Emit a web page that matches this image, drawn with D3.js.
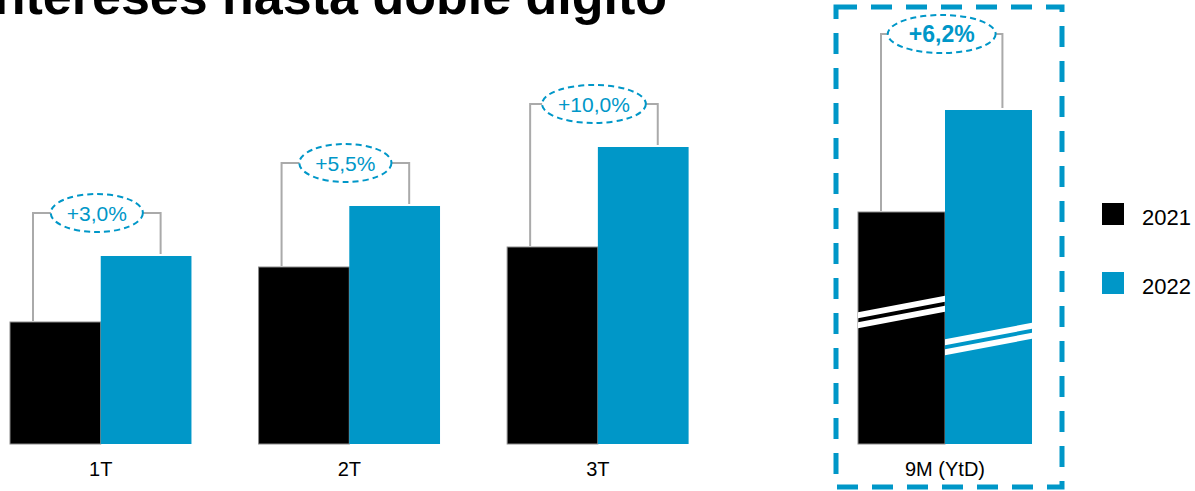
<!DOCTYPE html>
<html>
<head>
<meta charset="utf-8">
<script src="https://cdn.jsdelivr.net/npm/d3@7"></script>
<style>
  body { margin: 0; background: #fff; }
  svg { display: block; font-family: "Liberation Sans", Arial, sans-serif; }
</style>
</head>
<body>
<svg id="canvas"></svg>
<script>
// values (no axis in the original, so units are relative)
let quarters = ['1T', '2T', '3T'];
let years = ['2021', '2022'];
let values2021 = [122, 177, 197];
let values2022 = [188, 238, 297];
let growth = ['+3,0%', '+5,5%', '+10,0%'];

let ytdLabel = ['9M (YtD)'];
let ytd2021 = [232];
let ytd2022 = [334];
let ytdGrowth = ['+6,2%'];
// where the axis-break stripes sit on the 9M bars
let ytdBreak = [132, 105];

let title = 'Margen de intereses hasta doble dígito';

let width = 1195;
let height = 491;
let blue = '#0097c8';
let grey = '#aaaaaa';

let canvas = d3.select('#canvas')
    .attr('width', width)
    .attr('height', height);

// scales
let yScale = d3.scaleLinear().domain([0, 334]).range([444, 110]);

let xScale = d3.scaleBand()
    .domain(quarters)
    .range([10, 688.6])
    .paddingInner(0.27)
    .paddingOuter(0);

let xInner = d3.scaleBand().domain(years).range([0, xScale.bandwidth()]);

let xYtd = d3.scaleBand().domain(ytdLabel).range([858, 1032]);
let xYtdInner = d3.scaleBand().domain(years).range([0, xYtd.bandwidth()]);

let colour = d3.scaleOrdinal().domain(years).range(['#000000', blue]);

// title (cut at the top edge like the slide)
canvas.append('text')
    .attr('x', 667)
    .attr('y', 14)
    .attr('text-anchor', 'end')
    .attr('font-size', 52)
    .attr('font-weight', 'bold')
    .attr('fill', '#000')
    .text(title);

let drawGroups = (cats, v1, v2, labels, xs, xi, gap, bold) => {
    let rows = cats.map((c, i) => ({ cat: c, a: v1[i], b: v2[i], label: labels[i] }));

    let g = canvas.append('g');

    let grp = g.selectAll('g.grp')
        .data(rows)
        .enter()
        .append('g')
        .attr('class', 'grp')
        .attr('transform', d => 'translate(' + xs(d.cat) + ',0)');

    grp.selectAll('rect')
        .data(d => [{ year: '2021', v: d.a }, { year: '2022', v: d.b }])
        .enter()
        .append('rect')
        .attr('x', d => xi(d.year))
        .attr('y', d => yScale(d.v))
        .attr('width', xi.bandwidth())
        .attr('height', d => yScale(0) - yScale(d.v))
        .attr('fill', d => colour(d.year))
        .attr('stroke', d => d.year === '2021' ? '#8a8a8a' : 'none')
        .attr('stroke-width', 1);

    let armL = () => xi('2021') + 23;
    let armR = () => xi('2022') + xi.bandwidth() * 0.66;

    // bracket
    grp.append('path')
        .attr('fill', 'none')
        .attr('stroke', grey)
        .attr('stroke-width', 2)
        .attr('d', d => {
            let top = Math.min(yScale(d.a), yScale(d.b)) - gap;
            return 'M' + armL() + ',' + (yScale(d.a) - 1) + 'V' + top + 'H' + armR() + 'V' + (yScale(d.b) - 2);
        });

    // ellipse + label
    grp.each(function (d) {
        let sel = d3.select(this);
        let cx = (armL() + armR()) / 2;
        let cy = Math.min(yScale(d.a), yScale(d.b)) - gap;
        let t = sel.append('text')
            .attr('x', cx)
            .attr('y', cy)
            .attr('dy', '0.36em')
            .attr('text-anchor', 'middle')
            .attr('font-size', bold ? 23 : 21)
            .attr('font-weight', bold ? 'bold' : 'normal')
            .attr('fill', blue)
            .text(d.label);
        let tw = t.node().getComputedTextLength();
        sel.insert('ellipse', 'text')
            .attr('cx', cx)
            .attr('cy', cy)
            .attr('rx', tw / 2 + (bold ? 21 : 16))
            .attr('ry', 19)
            .attr('fill', '#fff')
            .attr('stroke', blue)
            .attr('stroke-width', 2)
            .attr('stroke-dasharray', '6,4');
    });

    // category labels
    g.selectAll('text.cat')
        .data(rows)
        .enter()
        .append('text')
        .attr('class', 'cat')
        .attr('x', d => xs(d.cat) + xs.bandwidth() / 2)
        .attr('y', 476)
        .attr('text-anchor', 'middle')
        .attr('font-size', 20)
        .attr('fill', '#000')
        .text(d => d.cat);

    return grp;
};

drawGroups(quarters, values2021, values2022, growth, xScale, xInner, 43, false);
drawGroups(ytdLabel, ytd2021, ytd2022, ytdGrowth, xYtd, xYtdInner, 76, true);

// axis-break stripes on the 9M bars
years.forEach((yr, i) => {
    let x0 = xYtd(ytdLabel[0]) + xYtdInner(yr);
    let x1 = x0 + xYtdInner.bandwidth();
    let xm = (x0 + x1) / 2;
    let yc = yScale(ytdBreak[i]);
    let slope = 0.19;
    [-5, 5].forEach(o => {
        let yl = yc + slope * (xm - x0) + o;
        let yr2 = yc - slope * (x1 - xm) + o;
        canvas.append('polygon')
            .attr('points', [
                [x0, yl - 3], [x1, yr2 - 3], [x1, yr2 + 3], [x0, yl + 3]
            ].map(p => p.join(',')).join(' '))
            .attr('fill', '#fff');
    });
});

// dashed frame round the 9M panel
canvas.append('rect')
    .attr('x', 836)
    .attr('y', 7)
    .attr('width', 226)
    .attr('height', 480)
    .attr('fill', 'none')
    .attr('stroke', blue)
    .attr('stroke-width', 5)
    .attr('stroke-dasharray', '21,14');

// legend
let legend = canvas.append('g')
    .selectAll('g')
    .data(years)
    .enter()
    .append('g')
    .attr('transform', (d, i) => 'translate(1102,' + (203 + i * 69) + ')');

legend.append('rect')
    .attr('width', 22)
    .attr('height', 22)
    .attr('fill', d => colour(d));

legend.append('text')
    .attr('x', 40)
    .attr('y', 22)
    .attr('font-size', 22)
    .attr('fill', '#000')
    .text(d => d);
</script>
</body>
</html>
